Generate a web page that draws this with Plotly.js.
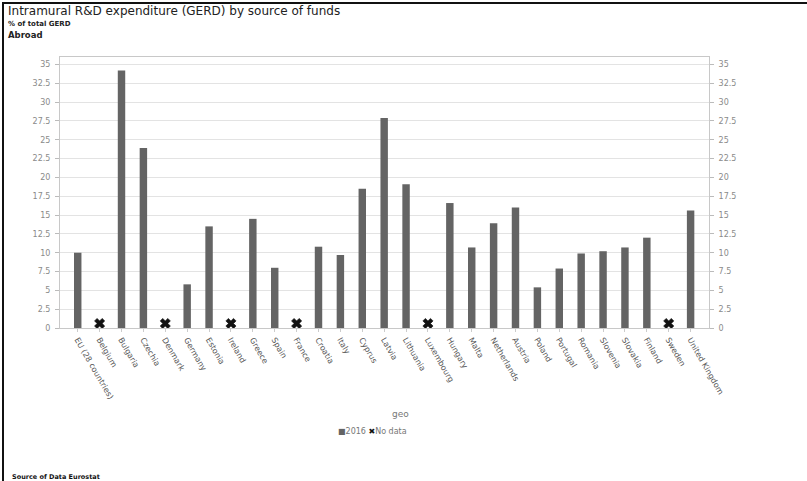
<!DOCTYPE html>
<html>
<head>
<meta charset="utf-8">
<script src="https://cdn.plot.ly/plotly-3.0.1.min.js"></script>
<style>
  html, body { margin: 0; padding: 0; background: #fff; }
  #wrap { position: relative; width: 807px; height: 481px; overflow: hidden; }
  #chart { position: absolute; left: 0; top: 0; width: 807px; height: 481px; }
  #frame { position: absolute; left: 2px; top: 2px; width: 820px; height: 500px;
           border-top: 2px solid #111; border-left: 2px solid #111; pointer-events: none; }
</style>
</head>
<body>
<div id="wrap">
  <div id="chart"></div>
  <div id="frame"></div>
</div>
<script>
// Countries / aggregates on the category axis
const geo = [
  "EU (28 countries)", "Belgium", "Bulgaria", "Czechia", "Denmark", "Germany",
  "Estonia", "Ireland", "Greece", "Spain", "France", "Croatia", "Italy", "Cyprus",
  "Latvia", "Lithuania", "Luxembourg", "Hungary", "Malta", "Netherlands", "Austria",
  "Poland", "Portugal", "Romania", "Slovenia", "Slovakia", "Finland", "Sweden",
  "United Kingdom"
];

// GERD financed from abroad, % of total GERD, 2016 (null = no data)
const values2016 = [
  10.0, null, 34.2, 23.9, null, 5.8,
  13.5, null, 14.5, 8.0, null, 10.8, 9.7, 18.5,
  27.9, 19.1, null, 16.6, 10.7, 13.9, 16.0,
  5.4, 7.9, 9.9, 10.2, 10.7, 12.0, null,
  15.6
];

// Y axis ticks
const yTicks = [0, 2.5, 5, 7.5, 10, 12.5, 15, 17.5, 20, 22.5, 25, 27.5, 30, 32.5, 35];
const yTickText = ["0", "2.5", "5", "7.5", "10", "12.5", "15", "17.5", "20", "22.5", "25", "27.5", "30", "32.5", "35"];

// Height at which the "no data" cross sits just above the baseline
const NO_DATA_MARK = 0.6;

const noDataX = geo.filter((g, i) => values2016[i] === null);
const noDataY = noDataX.map(() => NO_DATA_MARK);

const FONT = "DejaVu Sans, Verdana, sans-serif";
const tickFont = { family: FONT, size: 8, color: "#8a8a8a" };
const BAR_COLOR = "#646464";

const traces = [
  {
    type: "bar",
    name: "2016",
    x: geo,
    y: values2016,
    width: 0.34,
    marker: { color: BAR_COLOR },
    hoverinfo: "x+y"
  },
  {
    type: "scatter",
    mode: "markers",
    name: "No data",
    x: noDataX,
    y: noDataY,
    yaxis: "y2",
    marker: { symbol: "x", size: 9, color: "#111",
              line: { width: 0.6, color: "#111" } },
    hoverinfo: "x"
  }
];

const axisY = {
  range: [0, 36],
  tickmode: "array",
  tickvals: yTicks,
  ticktext: yTickText,
  tickfont: tickFont,
  ticks: "outside",
  ticklen: 4,
  tickcolor: "#bbb",
  ticklabelstandoff: 3,
  showline: true,
  linecolor: "#c8c8c8",
  linewidth: 1,
  zeroline: false,
  fixedrange: true
};

const layout = {
  width: 807,
  height: 481,
  margin: { l: 60, r: 98, t: 57, b: 153 },
  paper_bgcolor: "#fff",
  plot_bgcolor: "#fff",
  showlegend: false,
  xaxis: {
    type: "category",
    range: [-0.81, 28.84],
    tickangle: 60,
    tickfont: { family: FONT, size: 8, color: "#555" },
    ticks: "outside",
    ticklen: 3,
    tickcolor: "#ccc",
    showline: true,
    linecolor: "#c8c8c8",
    mirror: true,
    showgrid: false,
    fixedrange: true
  },
  yaxis: Object.assign({}, axisY, {
    side: "left",
    showgrid: true,
    gridcolor: "#e3e3e3",
    gridwidth: 1,
    mirror: false
  }),
  yaxis2: Object.assign({}, axisY, {
    side: "right",
    overlaying: "y",
    matches: "y",
    showgrid: false
  }),
  annotations: [
    { text: "Intramural R&D expenditure (GERD) by source of funds",
      xref: "paper", yref: "paper", x: -0.083, y: 1.17, xanchor: "left", yanchor: "middle",
      showarrow: false, font: { family: FONT, size: 12, color: "#222" } },
    { text: "<b>% of total GERD</b>",
      xref: "paper", yref: "paper", x: -0.083, y: 1.122, xanchor: "left", yanchor: "middle",
      showarrow: false, font: { family: FONT, size: 7, color: "#222" } },
    { text: "<b>Abroad</b>",
      xref: "paper", yref: "paper", x: -0.083, y: 1.081, xanchor: "left", yanchor: "middle",
      showarrow: false, font: { family: FONT, size: 8.5, color: "#222" } },
    { text: "geo",
      xref: "paper", yref: "paper", x: 0.524, y: -0.317, xanchor: "center", yanchor: "middle",
      showarrow: false, font: { family: FONT, size: 9, color: "#777" } },
    { text: "<span style='color:" + BAR_COLOR + "'>■</span>2016 <span style='color:#111'>✖</span>No data",
      xref: "paper", yref: "paper", x: 0.482, y: -0.383, xanchor: "center", yanchor: "middle",
      showarrow: false, font: { family: FONT, size: 8, color: "#777" } },
    { text: "<b>Source of Data Eurostat</b>",
      xref: "paper", yref: "paper", x: -0.077, y: -0.551, xanchor: "left", yanchor: "middle",
      showarrow: false, font: { family: FONT, size: 6.5, color: "#111" } }
  ]
};

Plotly.newPlot("chart", traces, layout, { displayModeBar: false, staticPlot: true });
</script>
</body>
</html>
